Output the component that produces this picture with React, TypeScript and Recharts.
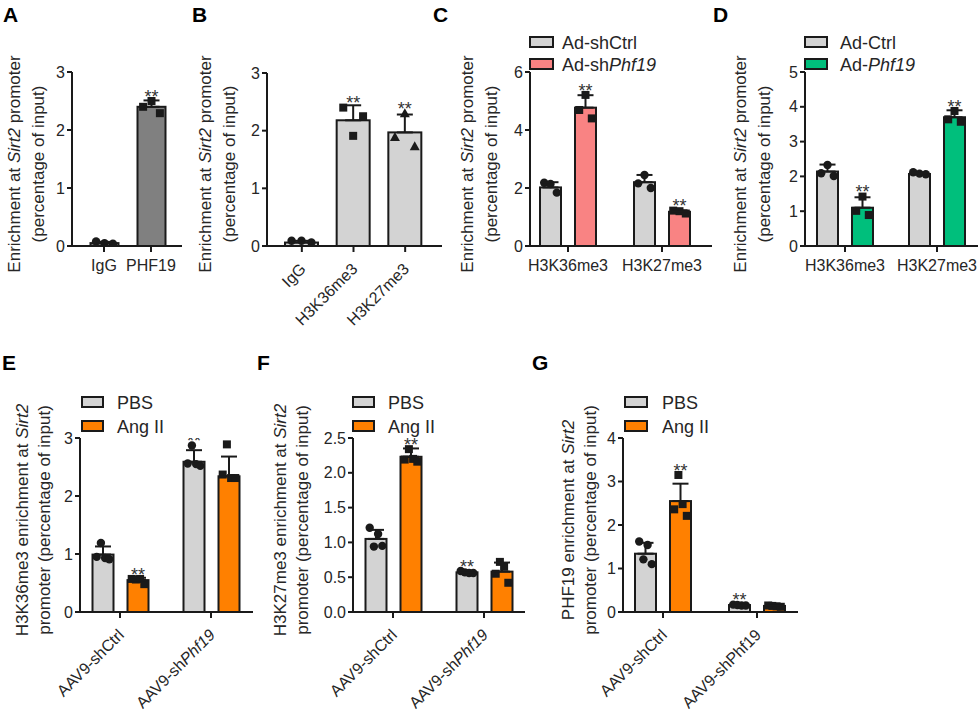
import React from 'react';
import { BarChart, Bar, XAxis, YAxis, ErrorBar } from 'recharts';

const FONT = '"Liberation Sans", Arial, Helvetica, sans-serif';
const INK = '#1a1a1a';
const TXT = '#262626';
const LIGHT = '#d3d3d3';
const DARK = '#808080';
const PINK = '#f98383';
const GREEN = '#00bf7c';
const ORANGE = '#ff8000';

// ---------- Panel A
const aCategories = ['IgG', 'PHF19'];
const aMeans = [0.05, 2.4];
const aSds = [0.02, 0.11];
const aDots = [[0.08, 0.05, 0.04], [2.4, 2.5, 2.29]];
const aSig = ['', '**'];
const aMarkers = ['circle', 'square'];
const aTicks = [0, 1, 2, 3];

// ---------- Panel B
const bCategories = ['IgG', 'H3K36me3', 'H3K27me3'];
const bMeans = [0.06, 2.18, 1.97];
const bSds = [0.03, 0.26, 0.31];
const bDots = [[0.09, 0.09, 0.06], [2.4, 1.91, 2.25], [1.89, 2.3, 1.73]];
const bSig = ['', '**', '**'];
const bMarkers = ['circle', 'square', 'triangle'];
const bTicks = [0, 1, 2, 3];

// ---------- Panel C
const cCategories = ['H3K36me3', 'H3K27me3'];
const cSeriesNames = ['Ad-shCtrl', 'Ad-shPhf19'];
const cCtrlMeans = [2.02, 2.2];
const cCtrlSds = [0.18, 0.25];
const cCtrlDots = [[2.18, 2.14, 1.84], [2.16, 2.45, 2.0]];
const cCtrlSig = ['', ''];
const cShMeans = [4.77, 1.18];
const cShSds = [0.43, 0.05];
const cShDots = [[4.69, 5.21, 4.4], [1.22, 1.2, 1.12]];
const cShSig = ['**', '**'];
const cTicks = [0, 2, 4, 6];

// ---------- Panel D
const dCategories = ['H3K36me3', 'H3K27me3'];
const dSeriesNames = ['Ad-Ctrl', 'Ad-Phf19'];
const dCtrlMeans = [2.14, 2.07];
const dCtrlSds = [0.2, 0.04];
const dCtrlDots = [[2.09, 2.33, 2.01], [2.12, 2.08, 2.06]];
const dCtrlSig = ['', ''];
const dOeMeans = [1.1, 3.7];
const dOeSds = [0.3, 0.2];
const dOeDots = [[1.01, 1.42, 0.89], [3.64, 3.88, 3.57]];
const dOeSig = ['**', '**'];
const dTicks = [0, 1, 2, 3, 4, 5];

// ---------- Panels E, F, G
const aavCategories = ['AAV9-shCtrl', 'AAV9-shPhf19'];
const treatNames = ['PBS', 'Ang II'];

const ePbsMeans = [0.99, 2.59];
const ePbsSds = [0.14, 0.2];
const ePbsDots = [[0.95, 1.19, 0.93, 0.91], [2.56, 2.87, 2.55, 2.52]];
const ePbsSig = ['', '**'];
const eAngMeans = [0.55, 2.34];
const eAngSds = [0.04, 0.34];
const eAngDots = [[0.57, 0.56, 0.57, 0.48], [2.37, 2.89, 2.31, 2.31]];
const eAngSig = ['**', ''];
const eTicks = [0, 1, 2, 3];

const fPbsMeans = [1.05, 0.57];
const fPbsSds = [0.13, 0.02];
const fPbsDots = [[1.21, 0.94, 1.12, 0.95], [0.59, 0.57, 0.56, 0.56]];
const fPbsSig = ['', '**'];
const fAngMeans = [2.23, 0.58];
const fAngSds = [0.12, 0.13];
const fAngDots = [[2.19, 2.34, 2.2, 2.16], [0.55, 0.72, 0.65, 0.42]];
const fAngSig = ['**', ''];
const fTicks = [0, 0.5, 1, 1.5, 2, 2.5];

const gPbsMeans = [1.34, 0.16];
const gPbsSds = [0.25, 0.02];
const gPbsDots = [[1.62, 1.21, 1.54, 1.1], [0.17, 0.16, 0.15, 0.15]];
const gPbsSig = ['', '**'];
const gAngMeans = [2.55, 0.14];
const gAngSds = [0.4, 0.02];
const gAngDots = [[2.36, 3.15, 2.48, 2.21], [0.15, 0.14, 0.13, 0.12]];
const gAngSig = ['**', ''];
const gTicks = [0, 1, 2, 3, 4];

type SeriesCfg = {
  name: string;
  color: string;
  means: number[];
  sds: number[];
  dots: number[][];
  sig: string[];
  markers: string[];
};

type PanelCfg = {
  letter: string;
  letterX: number;
  letterY: number;
  x0: number;
  x1: number;
  yTop: number;
  yBot: number;
  max: number;
  ticks: number[];
  decimals: number;
  padL: number;
  padR: number;
  barSize: number;
  barGap: number;
  categories: string[];
  series: SeriesCfg[];
  rotated: boolean;
  italics: string[];
  title: [string, string];
  titleX: [number, number];
  titleY: number;
  legend?: { boxX: number; boxW: number; textX: number; rows: number[] };
};

function rich(text: string, italics: string[]) {
  const parts: React.ReactNode[] = [];
  let rest = text;
  let k = 0;
  while (rest.length) {
    let best = -1;
    let word = '';
    for (const w of italics) {
      const i = rest.indexOf(w);
      if (i >= 0 && (best < 0 || i < best)) {
        best = i;
        word = w;
      }
    }
    if (best < 0) {
      parts.push(<tspan key={k++}>{rest}</tspan>);
      break;
    }
    if (best > 0) parts.push(<tspan key={k++}>{rest.slice(0, best)}</tspan>);
    parts.push(
      <tspan key={k++} fontStyle="italic">
        {word}
      </tspan>
    );
    rest = rest.slice(best + word.length);
  }
  return parts;
}

function buildRows(categories: string[], series: SeriesCfg[]) {
  return categories.map((cat, ci) => {
    const row: any = { cat };
    series.forEach((s, si) => {
      row[`m${si}`] = s.means[ci];
      row[`e${si}`] = [0, s.sds[ci]];
      row[`d${si}`] = s.dots[ci];
      row[`s${si}`] = s.sig[ci];
      row[`k${si}`] = s.markers[ci];
    });
    return row;
  });
}

function drawMarker(kind: string, cx: number, cy: number, key: number) {
  if (kind === 'square') return <rect key={key} x={cx - 4} y={cy - 4} width={8} height={8} fill={INK} />;
  if (kind === 'triangle')
    return <polygon key={key} points={`${cx},${cy - 5} ${cx - 5},${cy + 4} ${cx + 5},${cy + 4}`} fill={INK} />;
  return <circle key={key} cx={cx} cy={cy} r={4.2} fill={INK} />;
}

const SIG_SIZE = 18;

function makeShape(si: number) {
  return (props: any) => {
    const { x, y, width, height, payload, fill } = props;
    const mean = payload[`m${si}`];
    const base = y + height;
    const k = mean > 0 ? height / mean : 0;
    const py = (v: number) => base - v * k;
    const dots: number[] = payload[`d${si}`] || [];
    const kind: string = payload[`k${si}`];
    const sig: string = payload[`s${si}`];
    const err: number[] = payload[`e${si}`];
    const cx = x + width / 2;
    const n = dots.length;
    const errTop = py(mean + err[1]);
    const dotTop = n ? Math.min(...dots.map(py)) : base;
    const glyphBottom = Math.min(errTop - 3, dotTop - 6);
    return (
      <g>
        <rect x={x} y={y} width={width} height={height} fill={fill} stroke={INK} strokeWidth={2} />
        {dots.map((v, i) =>
          drawMarker(kind, cx + (n > 1 ? -0.3 + (0.6 * i) / (n - 1) : 0) * width, py(v), i)
        )}
        {sig ? (
          <text x={cx} y={glyphBottom + 7.7} textAnchor="middle" fontSize={SIG_SIZE} fill="#333" fontFamily={FONT}>
            {sig}
          </text>
        ) : null}
      </g>
    );
  };
}

function makeTick(rotated: boolean, italics: string[]) {
  return (props: any) => {
    const { x, y, payload } = props;
    if (rotated) {
      const ax = x + 5;
      const ay = y + 16;
      return (
        <text
          x={ax}
          y={ay}
          textAnchor="end"
          transform={`rotate(-45 ${ax} ${ay})`}
          fontSize={16}
          fill={TXT}
          fontFamily={FONT}
        >
          {rich(String(payload.value), italics)}
        </text>
      );
    }
    return (
      <text x={x} y={y + 17} textAnchor="middle" fontSize={16} fill={TXT} fontFamily={FONT}>
        {rich(String(payload.value), italics)}
      </text>
    );
  };
}

const YW = 50;
const MT = 30;
const MR = 6;
const XH = 110;

function Panel({ cfg }: { cfg: PanelCfg }) {
  const left = cfg.x0 - YW;
  const top = cfg.yTop - MT;
  const width = cfg.x1 + MR - left;
  const height = cfg.yBot + XH - top;
  const rows = buildRows(cfg.categories, cfg.series);
  const axisStyle = { stroke: INK, strokeWidth: 2 };
  return (
    <div style={{ position: 'absolute', left, top, width, height }}>
      <BarChart
        width={width}
        height={height}
        data={rows}
        margin={{ top: MT, right: MR, bottom: 0, left: 0 }}
        barGap={cfg.barGap}
        barSize={cfg.barSize}
      >
        <XAxis
          dataKey="cat"
          height={XH}
          padding={{ left: cfg.padL, right: cfg.padR }}
          interval={0}
          tickSize={6}
          tickMargin={2}
          axisLine={axisStyle}
          tickLine={axisStyle}
          tick={makeTick(cfg.rotated, cfg.italics)}
        />
        <YAxis
          width={YW}
          domain={[0, cfg.max]}
          ticks={cfg.ticks}
          allowDataOverflow
          interval={0}
          tickSize={5}
          tickMargin={2}
          axisLine={axisStyle}
          tickLine={axisStyle}
          tickFormatter={(v: number) => v.toFixed(cfg.decimals)}
          tick={{ fill: TXT, fontSize: 16, fontFamily: FONT }}
        />
        {cfg.series.map((s, si) => (
          <Bar key={si} dataKey={`m${si}`} fill={s.color} isAnimationActive={false} shape={makeShape(si)}>
            <ErrorBar dataKey={`e${si}`} width={8} strokeWidth={2} stroke={INK} direction="y" />
          </Bar>
        ))}
      </BarChart>
    </div>
  );
}

const topTitle: [string, string] = ['Enrichment at Sirt2 promoter', '(percentage of input)'];
const TOP_TITLE_Y = 164;
const BOTTOM_TITLE_Y = 520;

const panels: PanelCfg[] = [
  {
    letter: 'A', letterX: 3, letterY: 22,
    x0: 72, x1: 182, yTop: 72, yBot: 246, max: 3, ticks: aTicks, decimals: 0,
    padL: 8.5, padR: 7.5, barSize: 28, barGap: 4,
    categories: aCategories,
    series: [{ name: 'A', color: DARK, means: aMeans, sds: aSds, dots: aDots, sig: aSig, markers: aMarkers }],
    rotated: false, italics: [],
    title: topTitle, titleX: [14, 38], titleY: TOP_TITLE_Y,
  },
  {
    letter: 'B', letterX: 192, letterY: 22,
    x0: 267, x1: 442, yTop: 73, yBot: 246, max: 3, ticks: bTicks, decimals: 0,
    padL: 9, padR: 11, barSize: 33, barGap: 4,
    categories: bCategories,
    series: [{ name: 'B', color: LIGHT, means: bMeans, sds: bSds, dots: bDots, sig: bSig, markers: bMarkers }],
    rotated: true, italics: [],
    title: topTitle, titleX: [205, 229], titleY: TOP_TITLE_Y,
  },
  {
    letter: 'C', letterX: 433, letterY: 22,
    x0: 530, x1: 712, yTop: 72, yBot: 246, max: 6, ticks: cTicks, decimals: 0,
    padL: -9, padR: 3, barSize: 21, barGap: 14,
    categories: cCategories,
    series: [
      { name: cSeriesNames[0], color: LIGHT, means: cCtrlMeans, sds: cCtrlSds, dots: cCtrlDots, sig: cCtrlSig, markers: ['circle', 'circle'] },
      { name: cSeriesNames[1], color: PINK, means: cShMeans, sds: cShSds, dots: cShDots, sig: cShSig, markers: ['square', 'square'] },
    ],
    rotated: false, italics: [],
    title: topTitle, titleX: [467, 491], titleY: TOP_TITLE_Y,
    legend: { boxX: 530, boxW: 23, textX: 562, rows: [42, 64] },
  },
  {
    letter: 'D', letterX: 713, letterY: 22,
    x0: 805, x1: 978, yTop: 72, yBot: 246, max: 5, ticks: dTicks, decimals: 0,
    padL: -6, padR: -5, barSize: 21, barGap: 14,
    categories: dCategories,
    series: [
      { name: dSeriesNames[0], color: LIGHT, means: dCtrlMeans, sds: dCtrlSds, dots: dCtrlDots, sig: dCtrlSig, markers: ['circle', 'circle'] },
      { name: dSeriesNames[1], color: GREEN, means: dOeMeans, sds: dOeSds, dots: dOeDots, sig: dOeSig, markers: ['square', 'square'] },
    ],
    rotated: false, italics: [],
    title: topTitle, titleX: [740, 764], titleY: TOP_TITLE_Y,
    legend: { boxX: 805, boxW: 22, textX: 840, rows: [42, 64] },
  },
  {
    letter: 'E', letterX: 2, letterY: 370,
    x0: 80, x1: 253, yTop: 438, yBot: 612, max: 3, ticks: eTicks, decimals: 0,
    padL: -5.5, padR: -3.5, barSize: 21, barGap: 14,
    categories: aavCategories,
    series: [
      { name: treatNames[0], color: LIGHT, means: ePbsMeans, sds: ePbsSds, dots: ePbsDots, sig: ePbsSig, markers: ['circle', 'circle'] },
      { name: treatNames[1], color: ORANGE, means: eAngMeans, sds: eAngSds, dots: eAngDots, sig: eAngSig, markers: ['square', 'square'] },
    ],
    rotated: true, italics: ['Phf19'],
    title: ['H3K36me3 enrichment at Sirt2', 'promoter (percentage of input)'], titleX: [22, 44], titleY: BOTTOM_TITLE_Y,
    legend: { boxX: 82, boxW: 21, textX: 117, rows: [402, 426] },
  },
  {
    letter: 'F', letterX: 257, letterY: 370,
    x0: 353, x1: 525, yTop: 438, yBot: 612, max: 2.5, ticks: fTicks, decimals: 1,
    padL: -5.5, padR: -4.5, barSize: 21, barGap: 14,
    categories: aavCategories,
    series: [
      { name: treatNames[0], color: LIGHT, means: fPbsMeans, sds: fPbsSds, dots: fPbsDots, sig: fPbsSig, markers: ['circle', 'circle'] },
      { name: treatNames[1], color: ORANGE, means: fAngMeans, sds: fAngSds, dots: fAngDots, sig: fAngSig, markers: ['square', 'square'] },
    ],
    rotated: true, italics: ['Phf19'],
    title: ['H3K27me3 enrichment at Sirt2', 'promoter (percentage of input)'], titleX: [280, 302], titleY: BOTTOM_TITLE_Y,
    legend: { boxX: 353, boxW: 21, textX: 388, rows: [402, 426] },
  },
  {
    letter: 'G', letterX: 532, letterY: 370,
    x0: 623, x1: 798, yTop: 438, yBot: 612, max: 4, ticks: gTicks, decimals: 0,
    padL: -7, padR: -6, barSize: 21, barGap: 14,
    categories: aavCategories,
    series: [
      { name: treatNames[0], color: LIGHT, means: gPbsMeans, sds: gPbsSds, dots: gPbsDots, sig: gPbsSig, markers: ['circle', 'circle'] },
      { name: treatNames[1], color: ORANGE, means: gAngMeans, sds: gAngSds, dots: gAngDots, sig: gAngSig, markers: ['square', 'square'] },
    ],
    rotated: true, italics: [],
    title: ['PHF19 enrichment at Sirt2', 'promoter (percentage of input)'], titleX: [568, 590], titleY: BOTTOM_TITLE_Y,
    legend: { boxX: 625, boxW: 22, textX: 662, rows: [402, 426] },
  },
];

const TITLE_SIZE = 17;
const LEGEND_SIZE = 18;

function Overlay() {
  return (
    <svg width={980} height={716} style={{ position: 'absolute', left: 0, top: 0 }} fontFamily={FONT}>
      {panels.map((p) => (
        <g key={p.letter}>
          <text x={p.letterX} y={p.letterY} fontSize={21} fontWeight="bold" fill="#000">
            {p.letter}
          </text>
          {p.title.map((t, i) => {
            const bx = p.titleX[i] + TITLE_SIZE * 0.36;
            return (
              <text
                key={i}
                x={bx}
                y={p.titleY}
                textAnchor="middle"
                transform={`rotate(-90 ${bx} ${p.titleY})`}
                fontSize={TITLE_SIZE}
                fill={TXT}
              >
                {rich(t, ['Sirt2'])}
              </text>
            );
          })}
          {p.legend
            ? p.series.map((s, si) => {
                const cy = p.legend!.rows[si];
                return (
                  <g key={si}>
                    <rect x={p.legend!.boxX} y={cy - 5} width={p.legend!.boxW} height={10} fill={s.color} stroke={INK} strokeWidth={2} />
                    <text x={p.legend!.textX} y={cy + 6.5} fontSize={LEGEND_SIZE} fill={TXT}>
                      {rich(s.name, ['Phf19'])}
                    </text>
                  </g>
                );
              })
            : null}
        </g>
      ))}
    </svg>
  );
}

export default function App() {
  return (
    <div
      style={{
        position: 'absolute',
        left: 0,
        top: 0,
        width: 980,
        height: 716,
        overflow: 'hidden',
        background: '#fff',
        fontFamily: FONT,
      }}
    >
      {panels.map((p) => (
        <Panel key={p.letter} cfg={p} />
      ))}
      <Overlay />
    </div>
  );
}
